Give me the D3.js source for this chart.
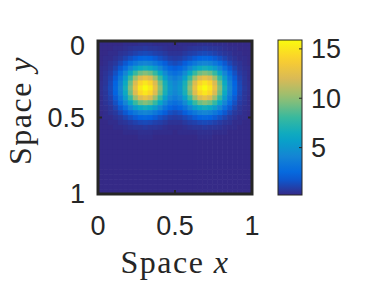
<!DOCTYPE html>
<html><head><meta charset="utf-8">
<script src="https://cdn.jsdelivr.net/npm/d3@7"></script>
<style>body{margin:0;background:#fff}svg{display:block}</style>
</head><body><div id="chart"></div>
<script>
const xTicks=[0,0.5,1];
const yTicks=[0,0.5,1];
const cbTicks=[5,10,15];
const parulaStops=["#352a87","#0363e1","#1485d4","#06a7c6","#38b99e","#92bf73","#d9ba56","#fcce2e","#f9fb0e"];
// field values, row by row from y=0 (top) to y=1
const z=[
[0.2,0.2,0.2,0.2,0.2,0.3,0.3,0.3,0.4,0.4,0.4,0.3,0.3,0.3,0.3,0.2,0.3,0.3,0.3,0.3,0.4,0.4,0.4,0.3,0.3,0.3,0.2,0.2,0.2,0.2,0.2],
[0.2,0.2,0.2,0.3,0.3,0.4,0.5,0.6,0.6,0.7,0.6,0.6,0.5,0.4,0.3,0.3,0.3,0.4,0.5,0.6,0.6,0.7,0.6,0.6,0.5,0.4,0.3,0.3,0.2,0.2,0.2],
[0.2,0.2,0.3,0.3,0.5,0.6,0.8,1.0,1.2,1.3,1.2,1.0,0.9,0.7,0.5,0.5,0.5,0.7,0.9,1.0,1.2,1.3,1.2,1.0,0.8,0.6,0.5,0.3,0.3,0.2,0.2],
[0.2,0.3,0.3,0.5,0.7,1.1,1.5,1.9,2.2,2.4,2.2,1.9,1.5,1.2,0.9,0.8,0.9,1.2,1.5,1.9,2.2,2.4,2.2,1.9,1.5,1.1,0.7,0.5,0.3,0.3,0.2],
[0.2,0.3,0.5,0.7,1.2,1.8,2.6,3.3,3.9,4.1,3.9,3.3,2.7,2.0,1.5,1.3,1.5,2.0,2.7,3.3,3.9,4.1,3.9,3.3,2.6,1.8,1.2,0.7,0.5,0.3,0.2],
[0.3,0.4,0.6,1.1,1.8,2.8,4.1,5.4,6.3,6.7,6.3,5.4,4.2,3.0,2.3,2.0,2.3,3.0,4.2,5.4,6.3,6.7,6.3,5.4,4.1,2.8,1.8,1.1,0.6,0.4,0.3],
[0.3,0.5,0.8,1.5,2.6,4.1,6.0,7.9,9.2,9.7,9.2,7.9,6.1,4.4,3.2,2.8,3.2,4.4,6.1,7.9,9.2,9.7,9.2,7.9,6.0,4.1,2.6,1.5,0.8,0.5,0.3],
[0.3,0.6,1.0,1.9,3.3,5.4,7.9,10.3,12.1,12.8,12.1,10.3,8.0,5.7,4.1,3.6,4.1,5.7,8.0,10.3,12.1,12.8,12.1,10.3,7.9,5.4,3.3,1.9,1.0,0.6,0.3],
[0.4,0.6,1.2,2.2,3.9,6.3,9.2,12.1,14.2,15.0,14.2,12.2,9.4,6.8,4.9,4.2,4.9,6.8,9.4,12.2,14.2,15.0,14.2,12.1,9.2,6.3,3.9,2.2,1.2,0.6,0.4],
[0.4,0.7,1.3,2.4,4.1,6.7,9.7,12.8,15.0,15.9,15.1,12.9,9.9,7.1,5.1,4.4,5.1,7.1,9.9,12.9,15.1,15.9,15.0,12.8,9.7,6.7,4.1,2.4,1.3,0.7,0.4],
[0.4,0.6,1.2,2.2,3.9,6.3,9.2,12.1,14.2,15.0,14.2,12.2,9.4,6.8,4.9,4.2,4.9,6.8,9.4,12.2,14.2,15.0,14.2,12.1,9.2,6.3,3.9,2.2,1.2,0.6,0.4],
[0.3,0.6,1.0,1.9,3.3,5.4,7.9,10.3,12.1,12.8,12.1,10.3,8.0,5.7,4.1,3.6,4.1,5.7,8.0,10.3,12.1,12.8,12.1,10.3,7.9,5.4,3.3,1.9,1.0,0.6,0.3],
[0.3,0.5,0.8,1.5,2.6,4.1,6.0,7.9,9.2,9.7,9.2,7.9,6.1,4.4,3.2,2.8,3.2,4.4,6.1,7.9,9.2,9.7,9.2,7.9,6.0,4.1,2.6,1.5,0.8,0.5,0.3],
[0.3,0.4,0.6,1.1,1.8,2.8,4.1,5.4,6.3,6.7,6.3,5.4,4.2,3.0,2.3,2.0,2.3,3.0,4.2,5.4,6.3,6.7,6.3,5.4,4.1,2.8,1.8,1.1,0.6,0.4,0.3],
[0.2,0.3,0.5,0.7,1.2,1.8,2.6,3.3,3.9,4.1,3.9,3.3,2.7,2.0,1.5,1.3,1.5,2.0,2.7,3.3,3.9,4.1,3.9,3.3,2.6,1.8,1.2,0.7,0.5,0.3,0.2],
[0.2,0.3,0.3,0.5,0.7,1.1,1.5,1.9,2.2,2.4,2.2,1.9,1.5,1.2,0.9,0.8,0.9,1.2,1.5,1.9,2.2,2.4,2.2,1.9,1.5,1.1,0.7,0.5,0.3,0.3,0.2],
[0.2,0.2,0.3,0.3,0.5,0.6,0.8,1.0,1.2,1.3,1.2,1.0,0.9,0.7,0.5,0.5,0.5,0.7,0.9,1.0,1.2,1.3,1.2,1.0,0.8,0.6,0.5,0.3,0.3,0.2,0.2],
[0.2,0.2,0.2,0.3,0.3,0.4,0.5,0.6,0.6,0.7,0.6,0.6,0.5,0.4,0.3,0.3,0.3,0.4,0.5,0.6,0.6,0.7,0.6,0.6,0.5,0.4,0.3,0.3,0.2,0.2,0.2],
[0.2,0.2,0.2,0.2,0.2,0.3,0.3,0.3,0.4,0.4,0.4,0.3,0.3,0.3,0.3,0.2,0.3,0.3,0.3,0.3,0.4,0.4,0.4,0.3,0.3,0.3,0.2,0.2,0.2,0.2,0.2],
[0.2,0.2,0.2,0.2,0.2,0.2,0.2,0.2,0.3,0.3,0.3,0.2,0.2,0.2,0.2,0.2,0.2,0.2,0.2,0.2,0.3,0.3,0.3,0.2,0.2,0.2,0.2,0.2,0.2,0.2,0.2],
[0.2,0.2,0.2,0.2,0.2,0.2,0.2,0.2,0.2,0.2,0.2,0.2,0.2,0.2,0.2,0.2,0.2,0.2,0.2,0.2,0.2,0.2,0.2,0.2,0.2,0.2,0.2,0.2,0.2,0.2,0.2],
[0.2,0.2,0.2,0.2,0.2,0.2,0.2,0.2,0.2,0.2,0.2,0.2,0.2,0.2,0.2,0.2,0.2,0.2,0.2,0.2,0.2,0.2,0.2,0.2,0.2,0.2,0.2,0.2,0.2,0.2,0.2],
[0.2,0.2,0.2,0.2,0.2,0.2,0.2,0.2,0.2,0.2,0.2,0.2,0.2,0.2,0.2,0.2,0.2,0.2,0.2,0.2,0.2,0.2,0.2,0.2,0.2,0.2,0.2,0.2,0.2,0.2,0.2],
[0.2,0.2,0.2,0.2,0.2,0.2,0.2,0.2,0.2,0.2,0.2,0.2,0.2,0.2,0.2,0.2,0.2,0.2,0.2,0.2,0.2,0.2,0.2,0.2,0.2,0.2,0.2,0.2,0.2,0.2,0.2],
[0.2,0.2,0.2,0.2,0.2,0.2,0.2,0.2,0.2,0.2,0.2,0.2,0.2,0.2,0.2,0.2,0.2,0.2,0.2,0.2,0.2,0.2,0.2,0.2,0.2,0.2,0.2,0.2,0.2,0.2,0.2],
[0.2,0.2,0.2,0.2,0.2,0.2,0.2,0.2,0.2,0.2,0.2,0.2,0.2,0.2,0.2,0.2,0.2,0.2,0.2,0.2,0.2,0.2,0.2,0.2,0.2,0.2,0.2,0.2,0.2,0.2,0.2],
[0.2,0.2,0.2,0.2,0.2,0.2,0.2,0.2,0.2,0.2,0.2,0.2,0.2,0.2,0.2,0.2,0.2,0.2,0.2,0.2,0.2,0.2,0.2,0.2,0.2,0.2,0.2,0.2,0.2,0.2,0.2],
[0.2,0.2,0.2,0.2,0.2,0.2,0.2,0.2,0.2,0.2,0.2,0.2,0.2,0.2,0.2,0.2,0.2,0.2,0.2,0.2,0.2,0.2,0.2,0.2,0.2,0.2,0.2,0.2,0.2,0.2,0.2],
[0.2,0.2,0.2,0.2,0.2,0.2,0.2,0.2,0.2,0.2,0.2,0.2,0.2,0.2,0.2,0.2,0.2,0.2,0.2,0.2,0.2,0.2,0.2,0.2,0.2,0.2,0.2,0.2,0.2,0.2,0.2],
[0.2,0.2,0.2,0.2,0.2,0.2,0.2,0.2,0.2,0.2,0.2,0.2,0.2,0.2,0.2,0.2,0.2,0.2,0.2,0.2,0.2,0.2,0.2,0.2,0.2,0.2,0.2,0.2,0.2,0.2,0.2],
[0.2,0.2,0.2,0.2,0.2,0.2,0.2,0.2,0.2,0.2,0.2,0.2,0.2,0.2,0.2,0.2,0.2,0.2,0.2,0.2,0.2,0.2,0.2,0.2,0.2,0.2,0.2,0.2,0.2,0.2,0.2]
];

const W=388, H=292, ink="#262626";
const svg=d3.select("#chart").append("svg").attr("width",W).attr("height",H);
svg.append("rect").attr("width",W).attr("height",H).attr("fill","#fff");

const x0=98, x1=252, y0=41, y1=194;
const x=d3.scaleLinear().domain([0,1]).range([x0,x1]);
const y=d3.scaleLinear().domain([0,1]).range([y0,y1]);
const cols=d3.scaleBand().domain(d3.range(z[0].length)).range([x0,x1]);
const rows=d3.scaleBand().domain(d3.range(z.length)).range([y0,y1]);
const parula=d3.piecewise(d3.interpolateRgb, parulaStops);
const ext=d3.extent(z.flat());
const color=d3.scaleSequential(parula).domain(ext);

// heatmap cells
svg.append("g").selectAll("g").data(z).join("g")
  .attr("transform",(r,j)=>`translate(0,${rows(j)})`)
  .selectAll("rect").data(r=>r).join("rect")
  .attr("x",(v,i)=>cols(i)).attr("width",cols.bandwidth()+0.6)
  .attr("height",rows.bandwidth()+0.6).attr("fill",v=>color(v));

// frame + inward ticks
svg.append("rect").attr("x",x0).attr("y",y0).attr("width",x1-x0).attr("height",y1-y0)
  .attr("fill","none").attr("stroke",ink).attr("stroke-width",3);
const tk=svg.append("g").attr("stroke",ink).attr("stroke-width",2);
xTicks.forEach(t=>{
  tk.append("line").attr("x1",x(t)).attr("x2",x(t)).attr("y1",y1).attr("y2",y1-4);
  tk.append("line").attr("x1",x(t)).attr("x2",x(t)).attr("y1",y0).attr("y2",y0+4);
});
yTicks.forEach(t=>{
  tk.append("line").attr("y1",y(t)).attr("y2",y(t)).attr("x1",x0).attr("x2",x0+4);
  tk.append("line").attr("y1",y(t)).attr("y2",y(t)).attr("x1",x1).attr("x2",x1-4);
});

const tickFont="'Liberation Sans', Arial, sans-serif";
svg.append("g").selectAll("text").data(xTicks).join("text")
  .attr("x",d=>x(d)).attr("y",235).attr("text-anchor","middle")
  .attr("font-family",tickFont).attr("font-size",27).attr("fill",ink).text(d=>d);
svg.append("g").selectAll("text").data(yTicks).join("text")
  .attr("x",85).attr("y",(d,i)=>y(d)+(i===0?5:0)).attr("dy","0.35em").attr("text-anchor","end")
  .attr("font-family",tickFont).attr("font-size",27).attr("fill",ink).text(d=>d);

// axis titles
const serif="'Liberation Serif','Times New Roman',serif";
const xl=svg.append("text").attr("x",(x0+x1)/2).attr("y",273).attr("text-anchor","middle")
  .attr("font-family",serif).attr("font-size",32).attr("letter-spacing",1.5).attr("fill",ink);
xl.append("tspan").text("Space ");
xl.append("tspan").attr("font-style","italic").text("x");
const yl=svg.append("text").attr("transform",`translate(31,${(y0+y1)/2-7}) rotate(-90)`)
  .attr("text-anchor","middle").attr("font-family",serif).attr("font-size",32)
  .attr("letter-spacing",1.5).attr("fill",ink);
yl.append("tspan").text("Space ");
yl.append("tspan").attr("font-style","italic").text("y");

// colorbar
const cx0=278, cx1=302, cy0=40, cy1=195;
const cb=d3.scaleLinear().domain(ext).range([cy1,cy0]);
const grad=svg.append("defs").append("linearGradient").attr("id","pg")
  .attr("x1",0).attr("y1",1).attr("x2",0).attr("y2",0);
d3.range(0,1.0001,0.05).forEach(t=>grad.append("stop").attr("offset",t).attr("stop-color",parula(t)));
svg.append("rect").attr("x",cx0).attr("y",cy0).attr("width",cx1-cx0).attr("height",cy1-cy0)
  .attr("fill","url(#pg)").attr("stroke",ink).attr("stroke-width",1);
svg.append("g").attr("stroke",ink).selectAll("line").data(cbTicks).join("line")
  .attr("x1",cx1).attr("x2",cx1-3).attr("y1",d=>cb(d)).attr("y2",d=>cb(d));
svg.append("g").selectAll("text").data(cbTicks).join("text")
  .attr("x",311).attr("y",d=>cb(d)).attr("dy","0.35em")
  .attr("font-family",tickFont).attr("font-size",27).attr("fill",ink).text(d=>d);
</script>
</body></html>
